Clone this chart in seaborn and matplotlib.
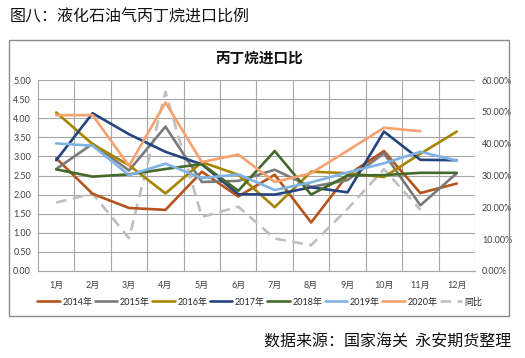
import numpy as np
import pandas as pd
import matplotlib
matplotlib.use("Agg")
import matplotlib.pyplot as plt
from matplotlib.lines import Line2D
from matplotlib.patches import Rectangle
import seaborn as sns

months = ["1月", "2月", "3月", "4月", "5月", "6月", "7月", "8月", "9月", "10月", "11月", "12月"]
y2014 = [2.95, 2.02, 1.65, 1.60, 2.60, 1.95, 2.52, 1.27, 2.51, 3.14, 2.04, 2.29]
y2015 = [2.67, 3.33, 2.63, 3.78, 2.33, 2.36, 2.65, 2.20, 2.38, 3.08, 1.72, 2.56]
y2016 = [4.15, 3.32, 2.77, 2.03, 2.85, 2.52, 1.67, 2.60, 2.56, 2.46, 3.07, 3.65]
y2017 = [2.90, 4.13, 3.58, 3.12, 2.79, 2.01, 2.00, 2.19, 2.06, 3.65, 2.91, 2.90]
y2018 = [2.66, 2.47, 2.53, 2.67, 2.80, 2.10, 3.14, 2.00, 2.50, 2.51, 2.57, 2.57]
y2019 = [3.34, 3.28, 2.51, 2.81, 2.43, 2.53, 2.12, 2.32, 2.58, 2.82, 3.12, 2.89]
y2020 = [4.08, 4.08, 2.75, 4.41, 2.85, 3.05, 2.33, 2.56, 3.15, 3.75, 3.66, np.nan]
yoy = [21.5, 24.3, 10.3, 56.3, 17.0, 20.2, 10.2, 8.1, 19.5, 32.0, 19.2, np.nan]

series_names = ["2014年", "2015年", "2016年", "2017年", "2018年", "2019年", "2020年"]
series_vals = [y2014, y2015, y2016, y2017, y2018, y2019, y2020]
colors = ["#B5541C", "#7A7A7A", "#A68500", "#25457E", "#45692B", "#7FB3E5", "#F5A26E"]
yoy_color = "#BFBFBF"

x = np.arange(len(months))
df = pd.DataFrame({
    "x": np.tile(x, len(series_names)),
    "value": np.concatenate([np.array(v, dtype=float) for v in series_vals]),
    "year": np.repeat(series_names, len(months)),
})
df_yoy = pd.DataFrame({"x": x, "yoy": np.array(yoy, dtype=float)})

sns.set_theme(style="white")
plt.rcParams["font.family"] = ["Lato", "Noto Sans CJK SC", "DejaVu Sans"]

W, H = 525, 358
fig = plt.figure(figsize=(W / 100, H / 100), dpi=100)
ax = fig.add_axes([38 / W, 1 - 271 / H, (475 - 38) / W, (271 - 80) / H])
ax2 = ax.twinx()

sns.lineplot(data=df, x="x", y="value", hue="year", palette=dict(zip(series_names, colors)),
             linewidth=1.9, ax=ax, legend=False, zorder=3)
sns.lineplot(data=df_yoy, x="x", y="yoy", color=yoy_color, linewidth=1.9, ax=ax2,
             legend=False, dashes=False)
for ln in ax2.get_lines():
    ln.set_dashes([4, 2.5])
ax2.set_zorder(ax.get_zorder() - 1)
ax.patch.set_visible(False)
ax2.patch.set_visible(True)
ax2.patch.set_facecolor("white")

grid_c = "#A6A6A6"
ax.set_xlim(-0.5, 11.5)
ax.set_ylim(0, 5)
ax2.set_ylim(0, 60)
ax.set_yticks(np.arange(0, 5.01, 0.5))
ax.set_yticklabels([f"{v:.2f}" for v in np.arange(0, 5.01, 0.5)])
ax2.set_yticks(np.arange(0, 60.1, 10))
ax2.set_yticklabels([f"{v:.2f}%" for v in np.arange(0, 60.1, 10)])
ax.set_xticks(x)
ax.set_xticklabels(months)
for yv in np.arange(0.5, 5.01, 0.5):
    ax2.axhline(yv * 12, color=grid_c, lw=0.8, zorder=0)
for xv in np.arange(0.5, 11.6, 1.0):
    ax2.axvline(xv, color=grid_c, lw=0.8, zorder=0)
ax.set_xlabel("")
ax.set_ylabel("")
ax2.set_ylabel("")
for a in (ax, ax2):
    for s in ["top", "right", "left"]:
        a.spines[s].set_visible(False)
    a.spines["bottom"].set_color(grid_c)
    a.spines["bottom"].set_linewidth(0.8)
ax.spines["left"].set_visible(True)
ax.spines["left"].set_color(grid_c)
ax.spines["left"].set_linewidth(0.8)
ax.tick_params(axis="both", length=0, labelsize=6.5, colors="#404040", pad=5)
ax2.tick_params(axis="both", length=0, labelsize=6.5, colors="#404040", pad=5)
ax.tick_params(axis="x", pad=7)

# frame around chart area
fig.patches.append(Rectangle((9 / W, 1 - 316 / H), 500 / W, 276 / H, transform=fig.transFigure,
                             fill=False, edgecolor="#8C8C8C", lw=1.0))

fig.text(10 / W, 1 - 17 / H, "图八：液化石油气丙丁烷进口比例", fontsize=11.5, va="center", ha="left",
         family=["Noto Sans CJK SC", "DejaVu Sans"], color="#111111")
fig.text(259 / W, 1 - 58 / H, "丙丁烷进口比", fontsize=10.5, va="center", ha="center",
         weight="bold", family=["Noto Sans CJK SC", "DejaVu Sans"], color="#111111")
fig.text(511 / W, 1 - 342 / H, "数据来源：国家海关  永安期货整理", fontsize=11.5, va="center", ha="right",
         family=["Noto Sans CJK SC", "DejaVu Sans"], color="#111111")

handles = [Line2D([], [], color=c, lw=1.9) for c in colors]
handles.append(Line2D([], [], color=yoy_color, lw=1.9, dashes=[4, 2.5]))
labels = series_names + ["同比"]
fig.legend(handles, labels, loc="center", bbox_to_anchor=(260 / W, 1 - 302 / H), ncol=8,
           frameon=False, handlelength=2.5, handletextpad=0.25, columnspacing=0.3,
           prop={"family": ["Lato", "Noto Sans CJK SC"], "size": 6.5})

fig.savefig("out.png", dpi=100, facecolor="white")
